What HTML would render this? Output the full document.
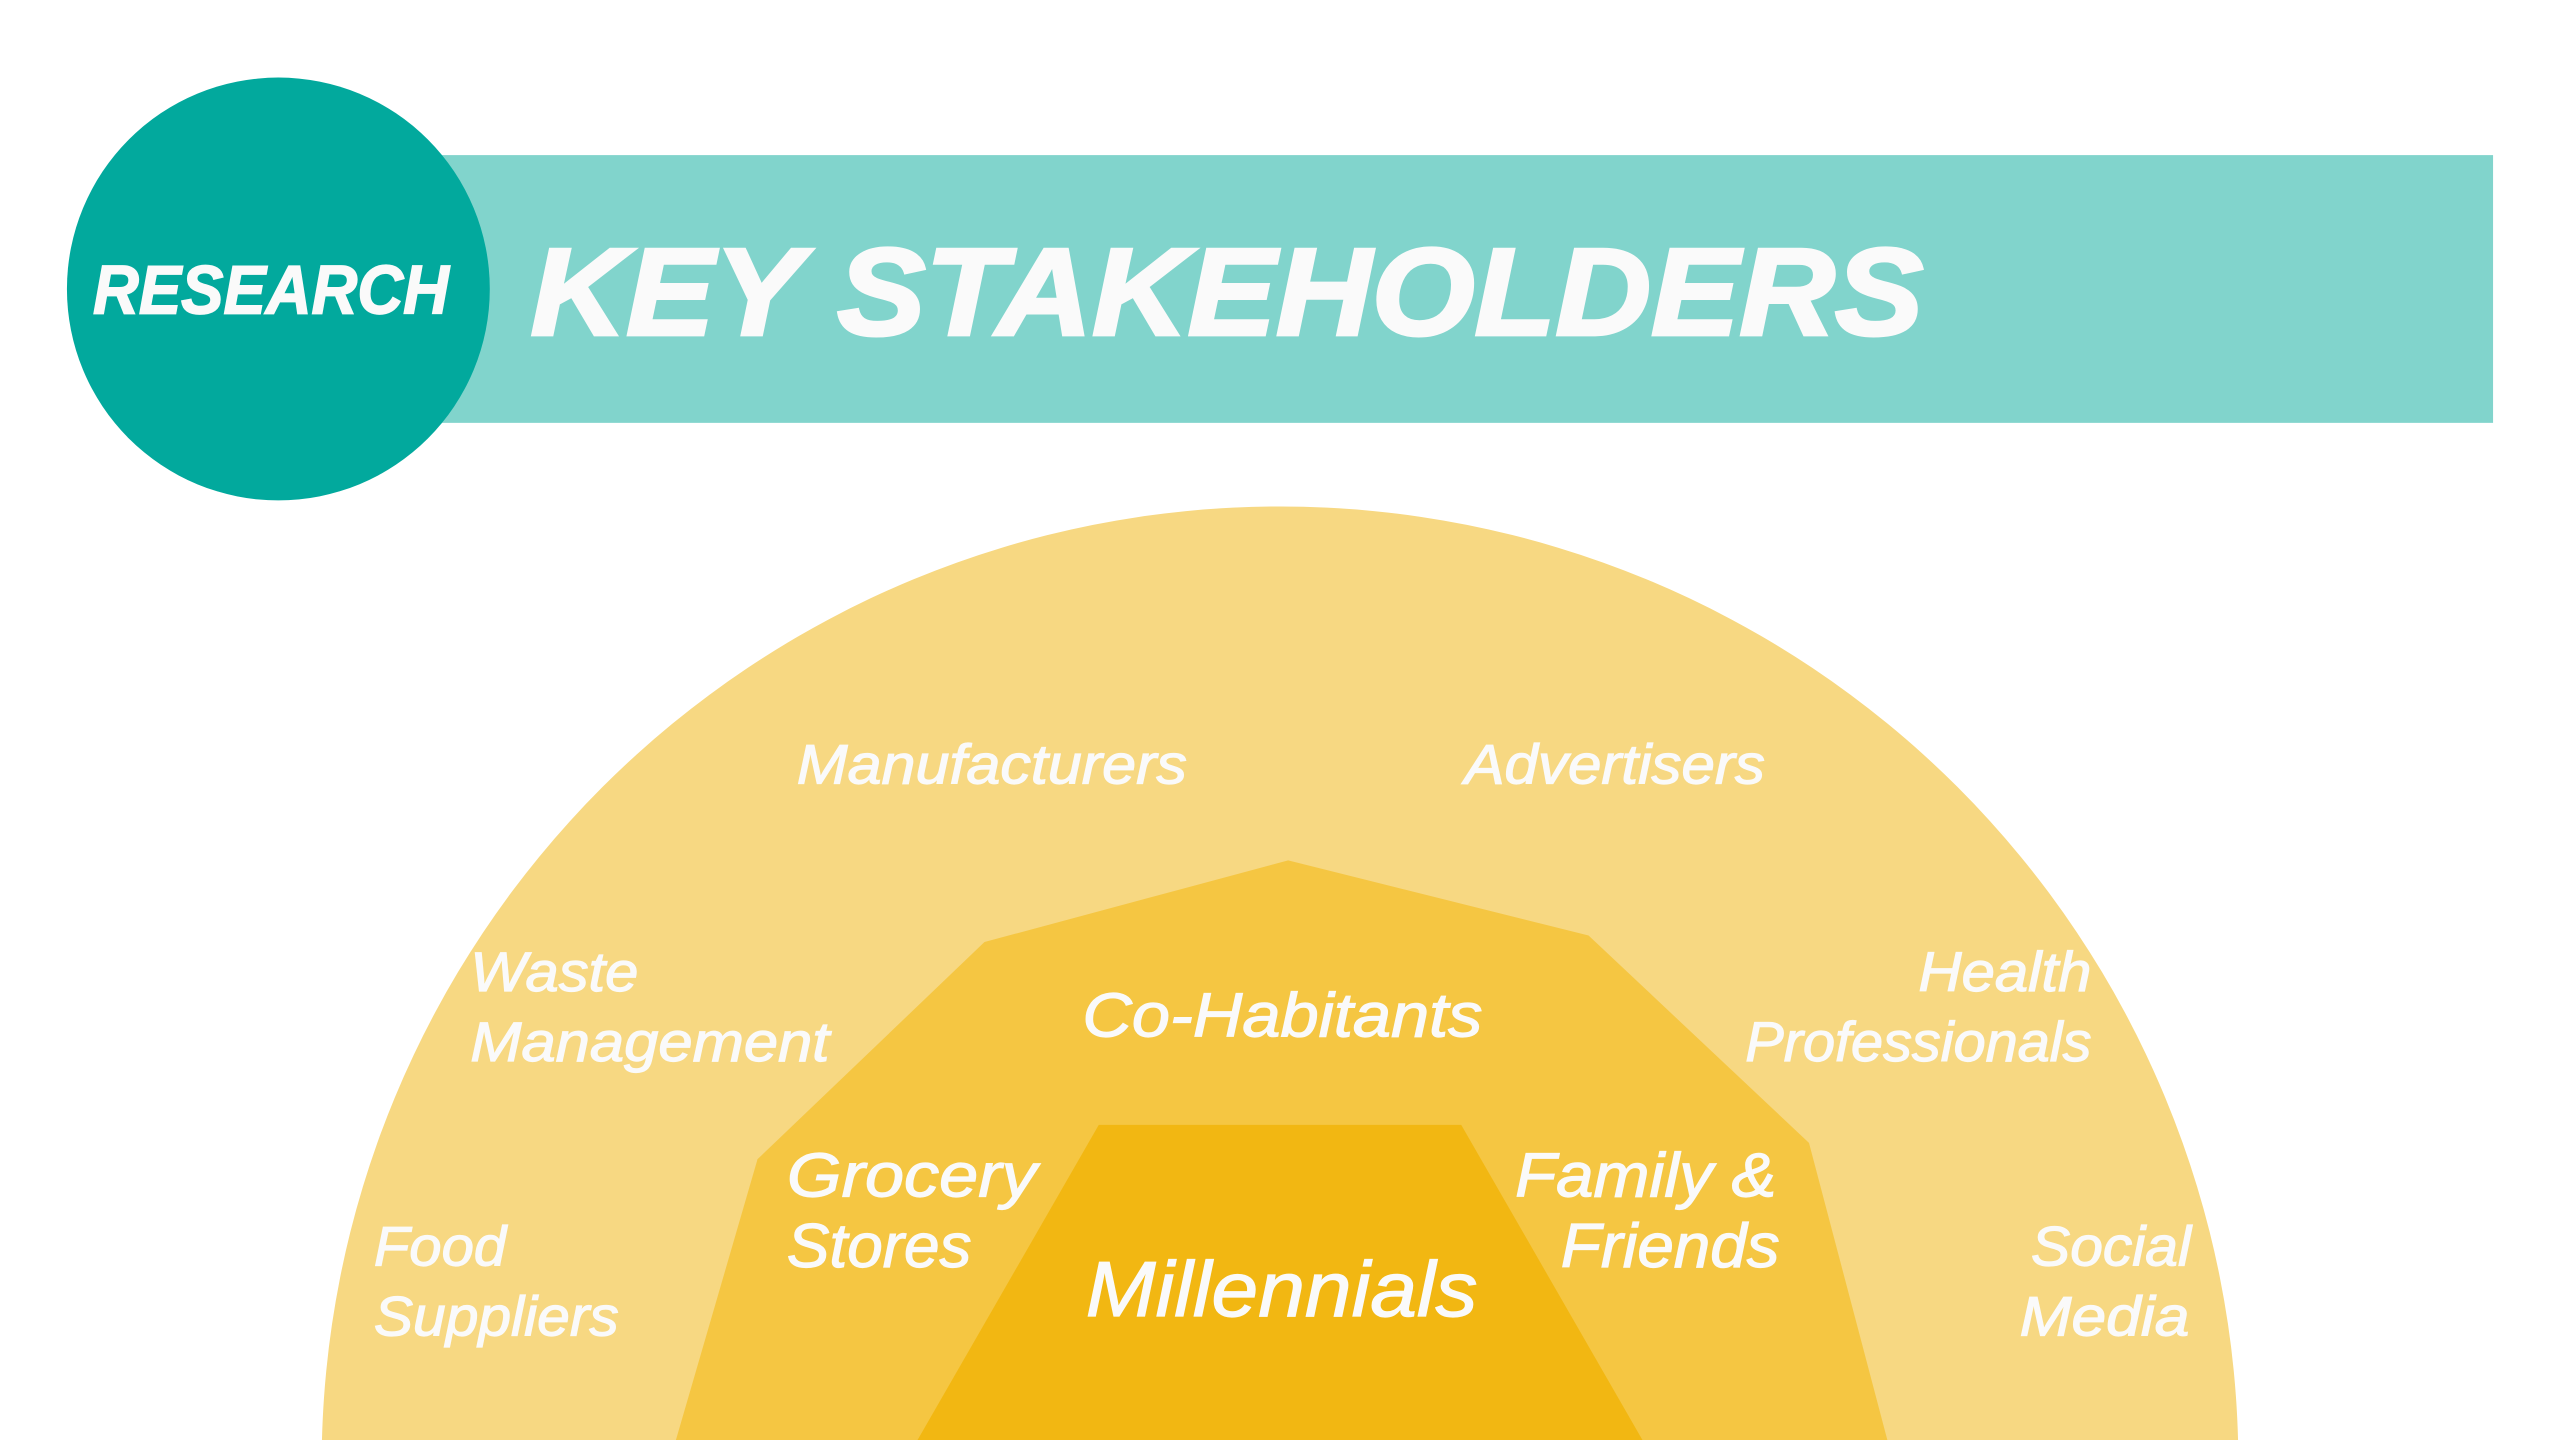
<!DOCTYPE html>
<html><head><meta charset="utf-8"><style>
html,body{margin:0;padding:0;background:#fff;width:2560px;height:1440px;overflow:hidden;}
svg{display:block;}
text{font-family:"Liberation Sans",sans-serif;fill:#fafafa;font-style:italic;}
.lbl{stroke:#fafafa;stroke-width:0.7;}
</style></head><body>
<svg width="2560" height="1440" viewBox="0 0 1568 882" xmlns="http://www.w3.org/2000/svg">
<defs><clipPath id="frame"><rect x="0" y="0" width="1568" height="882"/></clipPath></defs>
<rect x="250" y="95" width="1277" height="164" fill="#81D4CC"/>
<circle cx="170.5" cy="177" r="129.5" fill="#02A99D"/>
<text x="57" y="192" font-size="42" font-weight="bold" stroke="#fafafa" stroke-width="1" textLength="218" lengthAdjust="spacingAndGlyphs">RESEARCH</text>
<text x="325" y="205" font-size="76" font-weight="bold" stroke="#fafafa" stroke-width="2" textLength="853" lengthAdjust="spacingAndGlyphs">KEY STAKEHOLDERS</text>

<g clip-path="url(#frame)">
<path d="M197,897 A587,587 0 0 1 1371,897 Z" fill="#F7D882"/>
<polygon points="414,882 464,710 603,577 789,527 973,573 1108,700 1156,882" fill="#F5C642"/>
<polygon points="562,882 673,689 895,689 1006,882" fill="#F2B712"/>
</g>

<g font-size="34" class="lbl">
<text x="488" y="480" textLength="239" lengthAdjust="spacingAndGlyphs">Manufacturers</text>
<text x="897" y="480" textLength="184" lengthAdjust="spacingAndGlyphs">Advertisers</text>
<text x="288" y="607" textLength="103" lengthAdjust="spacingAndGlyphs">Waste</text>
<text x="288" y="650" textLength="220" lengthAdjust="spacingAndGlyphs">Management</text>
<text x="1175" y="607" textLength="106" lengthAdjust="spacingAndGlyphs">Health</text>
<text x="1069" y="650" textLength="212" lengthAdjust="spacingAndGlyphs">Professionals</text>
<text x="229" y="775" textLength="81" lengthAdjust="spacingAndGlyphs">Food</text>
<text x="229" y="818" textLength="150" lengthAdjust="spacingAndGlyphs">Suppliers</text>
<text x="1244" y="775" textLength="98" lengthAdjust="spacingAndGlyphs">Social</text>
<text x="1237" y="818" textLength="104" lengthAdjust="spacingAndGlyphs">Media</text>
</g>
<g font-size="38" class="lbl">
<text x="663" y="635" textLength="245" lengthAdjust="spacingAndGlyphs">Co-Habitants</text>
<text x="482" y="733" textLength="153" lengthAdjust="spacingAndGlyphs">Grocery</text>
<text x="482" y="776" textLength="113" lengthAdjust="spacingAndGlyphs">Stores</text>
<text x="928" y="733" textLength="160" lengthAdjust="spacingAndGlyphs">Family &amp;</text>
<text x="956" y="776" textLength="134" lengthAdjust="spacingAndGlyphs">Friends</text>
</g>
<text x="665" y="806" font-size="48" class="lbl" textLength="240" lengthAdjust="spacingAndGlyphs">Millennials</text>
</svg>
</body></html>
